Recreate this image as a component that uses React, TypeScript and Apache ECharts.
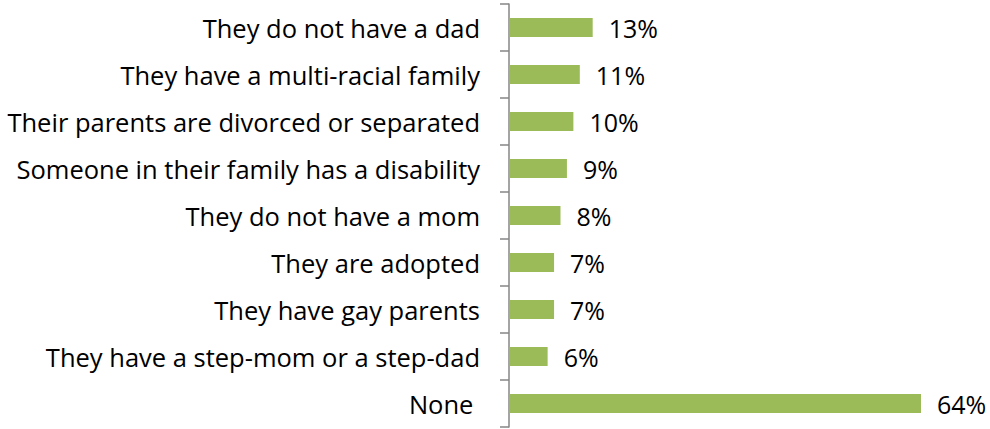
import React, { useEffect, useRef } from "react";
import * as echarts from "echarts";

const categories = [
  "They do not have a dad",
  "They have a multi-racial family",
  "Their parents are divorced or separated",
  "Someone in their family has a disability",
  "They do not have a mom",
  "They are adopted",
  "They have gay parents",
  "They have a step-mom or a step-dad",
  "None ",
];
const values = [13, 11, 10, 9, 8, 7, 7, 6, 64];

export default function App() {
  const ref = useRef<HTMLDivElement>(null);
  useEffect(() => {
    document.body.style.margin = "0";
    const chart = echarts.init(ref.current!, null, { renderer: "svg" });
    chart.setOption({
      animation: false,
      grid: { left: 509, right: 69, top: 4, bottom: 2 },
      xAxis: {
        type: "value",
        min: 0,
        max: 64,
        show: false,
      },
      yAxis: {
        type: "category",
        data: categories,
        inverse: true,
        axisLine: { show: true, lineStyle: { color: "#868686", width: 1.5 } },
        axisTick: { show: true, length: 9, lineStyle: { color: "#868686", width: 1.5 } },
        axisLabel: {
          margin: 29,
          color: "#000",
          fontFamily: "Open Sans",
          fontSize: 25.5,
          padding: [0, 0, 4, 0],
        },
        splitLine: { show: false },
      },
      series: [
        {
          type: "bar",
          data: values,
          barWidth: 19,
          itemStyle: { color: "#9BBB59" },
          label: {
            show: true,
            position: "right",
            distance: 16,
            formatter: "{c}%",
            color: "#000",
            fontFamily: "Open Sans",
            fontSize: 25,
            padding: [0, 0, 4, 0],
          },
        },
      ],
    });
    return () => chart.dispose();
  }, []);
  return <div ref={ref} style={{ width: 990, height: 429 }} />;
}
